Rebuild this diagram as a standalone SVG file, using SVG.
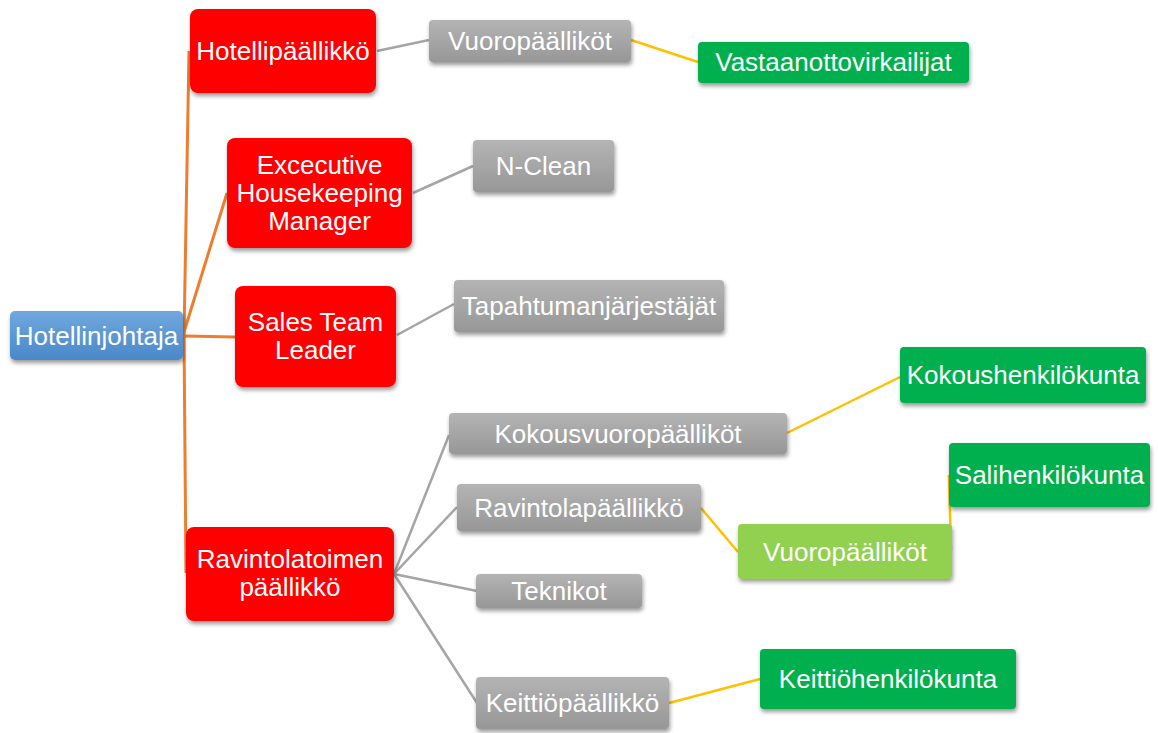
<svg xmlns="http://www.w3.org/2000/svg" width="1158" height="733" viewBox="0 0 1158 733">
<defs>
<filter id="sh" x="-10%" y="-20%" width="120%" height="150%">
<feDropShadow dx="1" dy="3" stdDeviation="2" flood-color="#000" flood-opacity="0.4"/>
</filter>
<linearGradient id="gGray" x1="0" y1="0" x2="0" y2="1">
<stop offset="0" stop-color="#b4b4b4"/><stop offset="1" stop-color="#979797"/>
</linearGradient>
<linearGradient id="gBlue" x1="0" y1="0" x2="0" y2="1">
<stop offset="0" stop-color="#70a8de"/><stop offset="1" stop-color="#4a88c9"/>
</linearGradient>
</defs>
<style>
rect{filter:url(#sh)}
.red{fill:#ff0000}
.gray{fill:url(#gGray)}
.green{fill:#00b050}
.lgreen{fill:#92d050}
.blue{fill:url(#gBlue)}
text{font-family:"Liberation Sans",Arial,sans-serif;font-size:26px;fill:#ffffff;text-anchor:middle}
.or{stroke:#ed7d31;stroke-width:3;fill:none}
.gy{stroke:#a5a5a5;stroke-width:2.5;fill:none}
.ye{stroke:#ffc000;stroke-width:2.5;fill:none}
</style>
<rect width="1158" height="733" fill="#ffffff" style="filter:none"/>
<g id="connectors">
<path class="or" d="M184,336 L189,51"/>
<path class="or" d="M184,332 L227,193"/>
<path class="or" d="M184,336 L235,337"/>
<path class="or" d="M184,336 L186,573"/>
<path class="gy" d="M377,51 L429,40"/>
<path class="ye" d="M631,40 L698,62"/>
<path class="gy" d="M413,193 L473,166"/>
<path class="gy" d="M397,335 L454,304"/>
<path class="gy" d="M394,574 L449,435"/>
<path class="gy" d="M394,574 L457,507"/>
<path class="gy" d="M394,574 L477,591"/>
<path class="gy" d="M394,574 L477,703"/>
<path class="ye" d="M787,433 L900,377"/>
<path class="ye" d="M701,508 L738,552"/>
<path class="ye" d="M951,551 L949,475"/>
<path class="ye" d="M669,703 L760,679"/>
</g>
<g id="n-hotellinjohtaja"><rect class="blue" x="10" y="311" width="173" height="49" rx="5"/><text x="96.5" y="345">Hotellinjohtaja</text></g>
<g id="n-hotellipaallikko"><rect class="red" x="190" y="9" width="186" height="84" rx="8"/><text x="283" y="60">Hotellipäällikkö</text></g>
<g id="n-ehm"><rect class="red" x="227" y="138" width="185" height="110" rx="8"/><text x="319.5" y="174">Excecutive</text><text x="319.5" y="202">Housekeeping</text><text x="319.5" y="230">Manager</text></g>
<g id="n-sales"><rect class="red" x="235" y="286" width="161" height="101" rx="8"/><text x="315.5" y="331">Sales Team</text><text x="315.5" y="359">Leader</text></g>
<g id="n-ravintolatoimen"><rect class="red" x="186" y="527" width="208" height="94" rx="8"/><text x="290" y="568">Ravintolatoimen</text><text x="290" y="596">päällikkö</text></g>
<g id="n-vuoro1"><rect class="gray" x="429" y="20" width="202" height="42" rx="4"/><text x="530" y="50">Vuoropäälliköt</text></g>
<g id="n-vastaanotto"><rect class="green" x="698" y="42" width="271" height="41" rx="4"/><text x="833.5" y="71">Vastaanottovirkailijat</text></g>
<g id="n-nclean"><rect class="gray" x="473" y="140" width="141" height="52" rx="4"/><text x="543.5" y="175">N-Clean</text></g>
<g id="n-tapahtuma"><rect class="gray" x="454" y="280" width="270" height="52" rx="4"/><text x="589" y="315">Tapahtumanjärjestäjät</text></g>
<g id="n-kokousvuoro"><rect class="gray" x="449" y="413" width="338" height="41" rx="4"/><text x="618" y="443">Kokousvuoropäälliköt</text></g>
<g id="n-kokoushenk"><rect class="green" x="900" y="347" width="246" height="56" rx="4"/><text x="1023" y="384">Kokoushenkilökunta</text></g>
<g id="n-ravintolapaallikko"><rect class="gray" x="457" y="484" width="244" height="47" rx="4"/><text x="579" y="517">Ravintolapäällikkö</text></g>
<g id="n-vuoro2"><rect class="lgreen" x="738" y="524" width="214" height="55" rx="4"/><text x="845" y="561">Vuoropäälliköt</text></g>
<g id="n-salihenk"><rect class="green" x="949" y="443" width="201" height="64" rx="4"/><text x="1049.5" y="484">Salihenkilökunta</text></g>
<g id="n-teknikot"><rect class="gray" x="476" y="574" width="166" height="34" rx="4"/><text x="559" y="600">Teknikot</text></g>
<g id="n-keittiopaallikko"><rect class="gray" x="476" y="677" width="193" height="52" rx="4"/><text x="572.5" y="712">Keittiöpäällikkö</text></g>
<g id="n-keittiohenk"><rect class="green" x="760" y="649" width="256" height="60" rx="4"/><text x="888" y="688">Keittiöhenkilökunta</text></g>
</svg>
